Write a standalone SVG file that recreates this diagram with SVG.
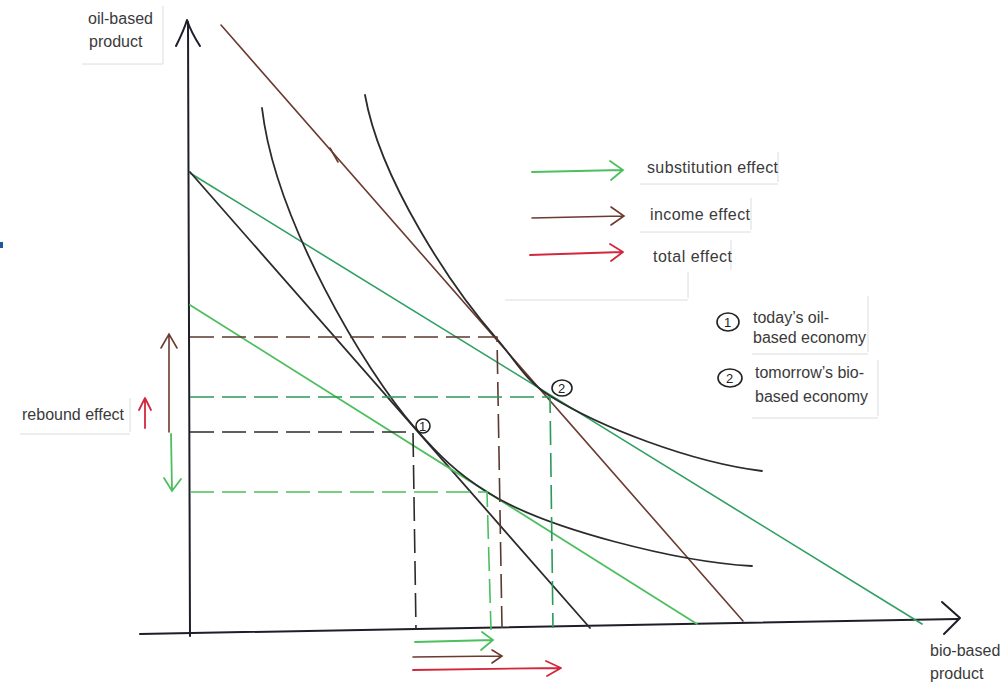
<svg xmlns="http://www.w3.org/2000/svg" width="1000" height="682" viewBox="0 0 1000 682">
<style>
  text { font-family: "Liberation Sans", Arial, sans-serif; font-size: 16px; fill: #3a3a3a; }
  .ax { stroke: #1e1e2a; stroke-width: 2; fill: none; stroke-linecap: round; stroke-linejoin: round; }
  .blk { stroke: #2b2b2b; stroke-width: 1.8; fill: none; stroke-linecap: round; }
  .brn { stroke: #6b3a30; stroke-width: 1.6; fill: none; stroke-linecap: round; }
  .grn { stroke: #2fa062; stroke-width: 1.6; fill: none; stroke-linecap: round; }
  .lgrn { stroke: #4cbf5e; stroke-width: 1.8; fill: none; stroke-linecap: round; }
  .red { stroke: #d2283c; stroke-width: 1.8; fill: none; stroke-linecap: round; stroke-linejoin: round; }
  .dash { stroke-dasharray: 24 8; stroke-width: 1.6; fill: none; }
  .edge { stroke: #dcdcdc; stroke-width: 1; fill: none; }
  .num { stroke: #222; stroke-width: 1.6; fill: none; }
  .numt { font-size: 13px; fill: #222; }
</style>
<rect width="1000" height="682" fill="#ffffff"/>
<rect x="0" y="242" width="3" height="6" fill="#1a5a9a"/>

<!-- faint scan box edges -->
<g id="edges">
  <path class="edge" d="M163,6 V64 M82,64 H163"/>
  <path class="edge" d="M778,152 V182 M640,184 H778"/>
  <path class="edge" d="M751,198 V230 M640,232 H751"/>
  <path class="edge" d="M731,240 V270 M688,272 V298 M505,300 H688"/>
  <path class="edge" d="M868,296 V352 M752,354 H868"/>
  <path class="edge" d="M878,360 V416 M752,418 H878"/>
  <path class="edge" d="M130,398 V432 M20,434 H130"/>
</g>

<!-- axes -->
<g id="y-axis">
  <path class="ax" d="M190,636 L188,22"/>
  <path class="ax" d="M176,46 Q184,30 187,20 Q191,32 200,46"/>
</g>
<g id="x-axis">
  <path class="ax" d="M140,634 L958,619"/>
  <path class="ax" d="M942,602 L960,618 L944,634"/>
</g>

<g id="connectors">
  <!-- budget lines -->
  <path id="budget-green-upper" class="grn" d="M190,173 L922,624"/>
  <path id="budget-black" class="blk" d="M190,172 L590,628"/>
  <path id="budget-green-lower" class="lgrn" d="M190,305 L697,624"/>
  <path id="budget-brown" class="brn" d="M221,25 L743,621"/>
  <path class="brn" d="M330,148 L338,162" stroke-width="3"/>

  <!-- indifference curves -->
  <path id="curve-1" class="blk" d="M262,108 C275,220 365,371 415,428 C440,456.5 457,473 487,492 C547,530 680,562 752,566"/>
  <path id="curve-2" class="blk" d="M365,95 C380,180 452,288 497,339 C515,359.5 525,380.6 550,396 C600,427 690,462 762,471"/>

  <!-- dashed guides -->
  <path class="dash" stroke="#5a3a30" d="M190,337 H497 L502,628"/>
  <path class="dash" stroke="#2a9a58" d="M190,397 H550 L553,628"/>
  <path class="dash" stroke="#2b2b2b" d="M190,432 H413 L416,630"/>
  <path class="dash" stroke="#4cbf5e" d="M190,492 H487 L491,630"/>

  <!-- vertical effect arrows -->
  <path class="brn" stroke-width="2" d="M169,432 L169,334 M161,348 L169,334 L177,348"/>
  <path class="lgrn" d="M171,434 L172,490 M164,478 L172,491 L181,479"/>
  <path class="red" d="M145,428 L145,399 M139,410 L145,398 L151,410"/>

  <!-- bottom effect arrows -->
  <path class="lgrn" d="M415,642 L493,640 M482,632 L493,640 L481,650"/>
  <path class="brn" stroke-width="2" d="M413,657 L501,656 M492,650 L502,656 L492,663"/>
  <path class="red" d="M413,670 L560,668 M546,661 L561,668 L547,676"/>
</g>

<!-- equilibrium markers -->
<g id="point-1">
  <ellipse class="num" cx="423" cy="426" rx="7" ry="7"/>
  <text class="numt" x="419" y="431">1</text>
</g>
<g id="point-2">
  <ellipse class="num" cx="562" cy="388" rx="10" ry="8"/>
  <text class="numt" x="558" y="393">2</text>
</g>

<!-- labels -->
<g id="label-y">
  <text x="88" y="24">oil-based</text>
  <text x="89" y="47">product</text>
</g>
<g id="label-x">
  <text x="930" y="656">bio-based</text>
  <text x="930" y="679">product</text>
</g>
<g id="label-rebound">
  <text x="22" y="420">rebound effect</text>
</g>

<!-- legend -->
<g id="legend-substitution">
  <path class="lgrn" d="M532,172 L622,170 M610,161 L623,170 L611,180"/>
  <text x="647" y="173" textLength="131">substitution effect</text>
</g>
<g id="legend-income">
  <path class="brn" stroke-width="2" d="M532,218 L622,216 M611,207 L624,216 L611,225"/>
  <text x="650" y="220" textLength="100">income effect</text>
</g>
<g id="legend-total">
  <path class="red" d="M530,255 L622,252 M610,244 L623,252 L611,261"/>
  <text x="653" y="262" textLength="79">total effect</text>
</g>

<g id="legend-point-1">
  <ellipse class="num" cx="728" cy="322" rx="11" ry="9"/>
  <text class="numt" x="724" y="327">1</text>
  <text x="753" y="323">today’s oil-</text>
  <text x="753" y="343">based economy</text>
</g>
<g id="legend-point-2">
  <ellipse class="num" cx="730" cy="378" rx="12" ry="9"/>
  <text class="numt" x="726" y="383">2</text>
  <text x="755" y="378">tomorrow’s bio-</text>
  <text x="755" y="402">based economy</text>
</g>
</svg>
